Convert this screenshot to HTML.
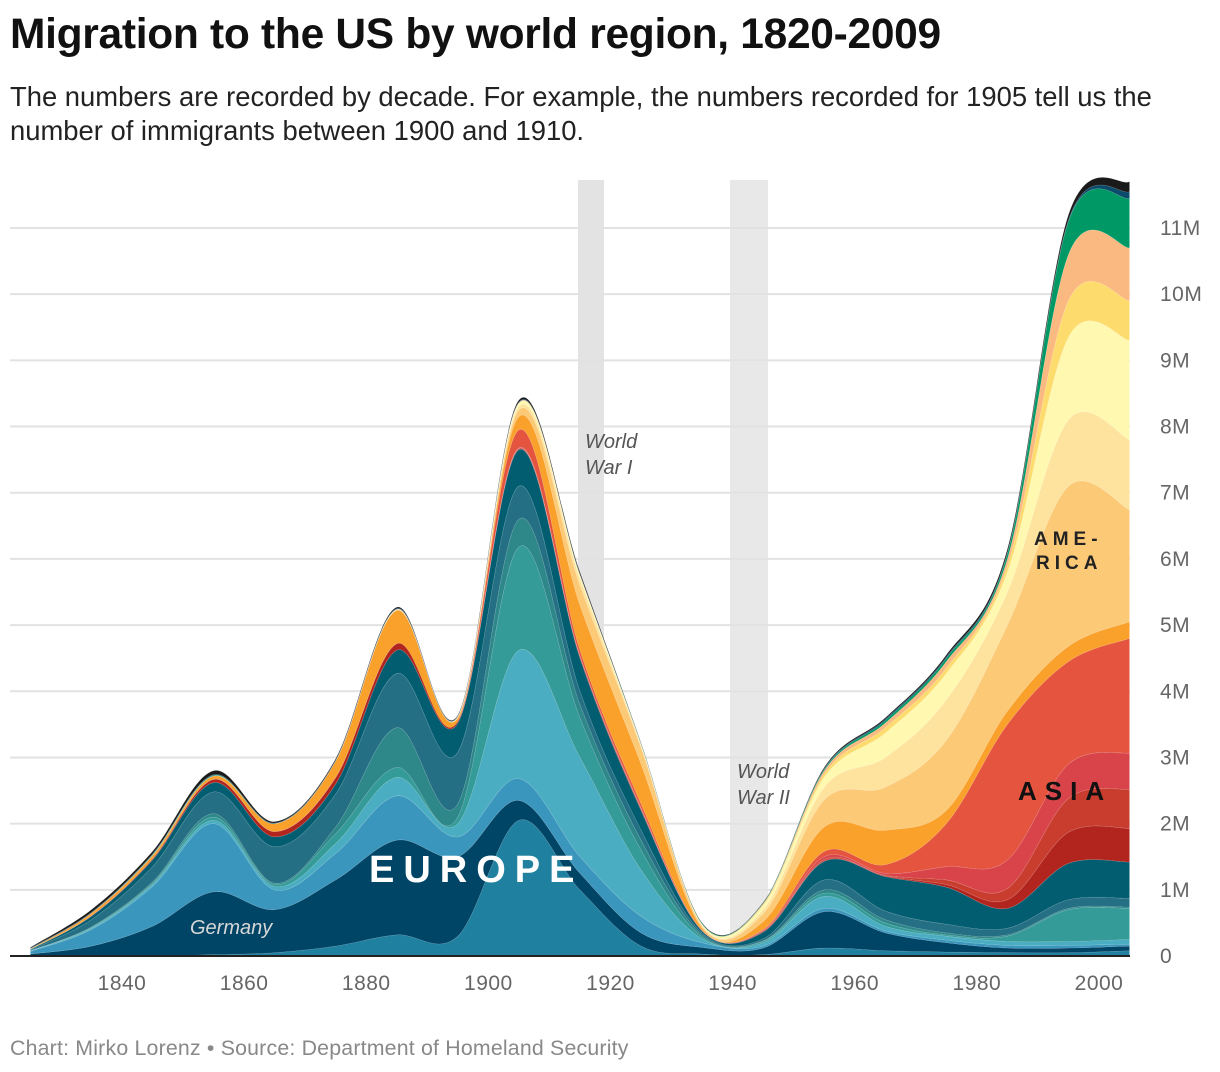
<!DOCTYPE html>
<html><head><meta charset="utf-8">
<style>
body{margin:0;background:#fff;font-family:"Liberation Sans",Arial,sans-serif;}
#wrap{position:relative;width:1220px;height:1072px;overflow:hidden;}
h1{position:absolute;left:10px;top:11px;margin:0;font-size:42.5px;font-weight:bold;color:#111;letter-spacing:-0.3px;}
.sub{position:absolute;left:10px;top:80px;margin:0;font-size:27.4px;line-height:34px;color:#222;width:1180px;}
.foot{position:absolute;left:10px;top:1036px;font-size:21.3px;color:#888;letter-spacing:0.2px;}
</style></head>
<body>
<div id="wrap">
<h1>Migration to the US by world region, 1820-2009</h1>
<p class="sub">The numbers are recorded by decade. For example, the numbers recorded for 1905 tell us the number of immigrants between 1900 and 1910.</p>
<svg id="chart" width="1220" height="1072" style="position:absolute;left:0;top:0"></svg>
<div class="foot">Chart: Mirko Lorenz • Source: Department of Homeland Security</div>
</div>
<script>
// decade midpoints
const years = [1825,1835,1845,1855,1865,1875,1885,1895,1905,1915,1925,1935,1945,1955,1965,1975,1985,1995,2005];
const xTicks = [1840,1860,1880,1900,1920,1940,1960,1980,2000];
const yTicks = [0,1,2,3,4,5,6,7,8,9,10,11];
// stack tops (millions), bottom layer first
const topItaly      = [0,0,0,.02,.05,.15,.32,.3,2.05,1.0,.15,.03,.02,.12,.08,.06,.05,.05,.08];
const topGermany    = [.03,.15,.45,.97,.7,1.15,1.75,1.5,2.35,1.25,.35,.13,.12,.67,.35,.2,.12,.12,.15];
const topEurope3    = [.07,.4,1.05,2.0,1.0,1.55,2.42,1.8,2.68,1.5,.6,.2,.15,.72,.38,.24,.16,.16,.18];
const topEurope4    = [.08,.42,1.08,2.05,1.05,1.7,2.7,2.0,4.62,3.0,1.3,.26,.2,.9,.45,.3,.22,.22,.25];
const topEurope5    = [.08,.43,1.1,2.1,1.08,1.85,2.85,2.1,6.18,3.6,1.6,.29,.22,.95,.5,.32,.3,.7,.72];
const topEurope6    = [.08,.44,1.12,2.15,1.1,1.95,3.45,2.3,6.6,3.8,1.75,.32,.23,1.0,.55,.35,.32,.72,.74];
const topEurope7    = [.09,.55,1.35,2.48,1.65,2.45,4.27,3.08,7.1,4.0,1.9,.35,.26,1.15,.68,.48,.42,.85,.87];
const topEurope8    = [.1,.6,1.45,2.62,1.8,2.6,4.62,3.52,7.65,4.5,2.2,.38,.36,1.43,1.2,1.04,.72,1.4,1.42];
const topAsia1      = [.1,.61,1.47,2.67,1.88,2.7,4.72,3.55,7.66,4.52,2.22,.38,.37,1.44,1.21,1.08,.85,1.87,1.93];
const topAsia2      = [.1,.61,1.47,2.67,1.88,2.7,4.72,3.55,7.67,4.53,2.23,.38,.38,1.46,1.22,1.15,1.02,2.38,2.52];
const topAsia3      = [.1,.61,1.47,2.67,1.88,2.7,4.72,3.55,7.68,4.54,2.24,.38,.39,1.5,1.25,1.35,1.45,2.9,3.07];
const topAsia4      = [.1,.61,1.47,2.67,1.88,2.7,4.72,3.55,7.95,4.62,2.3,.39,.4,1.58,1.38,2.0,3.5,4.45,4.8];
const topAsia5      = [.11,.65,1.52,2.72,2.0,2.95,5.22,3.6,8.15,5.3,2.9,.42,.52,1.95,1.9,2.2,3.7,4.68,5.05];
const topAmerica1   = [.11,.65,1.52,2.72,2.0,2.95,5.23,3.61,8.25,5.6,3.15,.45,.64,2.36,2.55,3.26,5.0,7.1,6.74];
const topAmerica2   = [.11,.65,1.52,2.72,2.0,2.95,5.23,3.61,8.3,5.7,3.18,.46,.7,2.55,3.0,3.87,5.5,8.1,7.8];
const topAmerica3   = [.11,.65,1.52,2.72,2.0,2.95,5.24,3.62,8.35,5.75,3.2,.48,.76,2.7,3.37,4.27,5.8,9.35,9.3];
const topAmerica4   = [.11,.65,1.52,2.72,2.0,2.95,5.24,3.62,8.35,5.75,3.2,.48,.78,2.75,3.45,4.35,5.9,9.9,9.9];
const topAmerica5   = [.11,.65,1.52,2.72,2.0,2.95,5.24,3.62,8.36,5.76,3.2,.48,.79,2.8,3.52,4.45,6.0,10.6,10.7];
const topAfrica     = [.11,.65,1.53,2.73,2.0,2.95,5.24,3.62,8.36,5.76,3.21,.49,.8,2.82,3.56,4.5,6.08,11.1,11.45];
const topOceania    = [.12,.66,1.54,2.74,2.01,2.96,5.25,3.63,8.37,5.77,3.21,.49,.8,2.83,3.58,4.52,6.1,11.12,11.55];
const topOther      = [.13,.7,1.58,2.8,2.03,2.98,5.27,3.64,8.4,5.8,3.22,.5,.81,2.85,3.6,4.55,6.15,11.2,11.7];

const layers = [
 ['italy',topItaly,'#1f80a0'],['germany',topGermany,'#004466'],['europe-3',topEurope3,'#3b96bd'],
 ['europe-4',topEurope4,'#4aadc1'],['europe-5',topEurope5,'#349b98'],['europe-6',topEurope6,'#2e8789'],
 ['europe-7',topEurope7,'#256f84'],['europe-8',topEurope8,'#035d70'],['asia-1',topAsia1,'#b2251f'],
 ['asia-2',topAsia2,'#c93d2f'],['asia-3',topAsia3,'#d9444b'],['asia-4',topAsia4,'#e4543f'],
 ['asia-5',topAsia5,'#f9a12b'],['america-1',topAmerica1,'#fcc977'],['america-2',topAmerica2,'#fde39d'],
 ['america-3',topAmerica3,'#fff8b1'],['america-4',topAmerica4,'#fddc6d'],['america-5',topAmerica5,'#fbb982'],
 ['africa',topAfrica,'#009966'],['oceania',topOceania,'#0a4a6a'],['other',topOther,'#1a1a1a']
];

const NS='http://www.w3.org/2000/svg';
const svg=document.getElementById('chart');
const X=y=>122+(y-1840)*(1099-122)/160;
const Y=v=>956-v*728/11;
function mk(t,a){const e=document.createElementNS(NS,t);for(const k in a)e.setAttribute(k,a[k]);svg.appendChild(e);return e;}

const b1=mk('rect',{x:578,y:180,width:26,height:776,fill:'#e3e3e3'});


const b2=mk('rect',{x:730,y:180,width:38,height:776,fill:'#e8e8e8'});



yTicks.forEach(t=>{
  if(t>0){const g=mk('line',{x1:10,x2:1130,y1:Y(t),y2:Y(t),stroke:'#e2e2e2','stroke-width':2});
  
  }
  const l=mk('text',{x:1160,y:Y(t)+7,'font-size':21,fill:'#666','letter-spacing':0.5,'font-family':'Liberation Sans, sans-serif'});
  l.textContent=t===0?'0':t+'M';
  
  
});

function curve(pts){
  let d='';
  for(let i=0;i<pts.length-1;i++){
    const p0=pts[i-1]||pts[i],p1=pts[i],p2=pts[i+1],p3=pts[i+2]||p2;
    const c1=[p1[0]+(p2[0]-p0[0])/6,p1[1]+(p2[1]-p0[1])/6];
    const c2=[p2[0]-(p3[0]-p1[0])/6,p2[1]-(p3[1]-p1[1])/6];
    d+=` C${c1[0]},${c1[1]} ${c2[0]},${c2[1]} ${p2[0]},${p2[1]}`;
  }
  return d;
}
let prev=null;
layers.forEach(([name,tops,col])=>{
  const top=years.map((yr,i)=>[X(yr),Y(tops[i])]);
  let d='M'+top[0][0]+','+top[0][1]+curve(top);
  if(prev){const bot=prev.slice().reverse();d+=' L'+bot[0][0]+','+bot[0][1]+curve(bot);}
  else{d+=` L${X(2005)},956 L${X(1825)},956`;}
  d+='Z';
  const p=mk('path',{d:d,fill:col,stroke:'rgba(255,255,255,0.15)','stroke-width':0.6});
  
  
  prev=top;
});

const ax=mk('line',{x1:10,x2:1130,y1:956,y2:956,stroke:'#222','stroke-width':2});


xTicks.forEach(t=>{
  const l=mk('text',{x:X(t),y:990,'font-size':21,fill:'#666','text-anchor':'middle','letter-spacing':0.5,'font-family':'Liberation Sans, sans-serif'});
  l.textContent=t;
  
  
});

function txt(s,a,name){const e=mk('text',Object.assign({'font-family':'Liberation Sans, sans-serif'},a));e.textContent=s;
  
  return e;}
txt('World',{x:585,y:448,'font-size':20,'font-style':'italic',fill:'#555'},'ww1-label');
txt('War I',{x:585,y:474,'font-size':20,'font-style':'italic',fill:'#555'},'ww1-label');
txt('World',{x:737,y:778,'font-size':20,'font-style':'italic',fill:'#555'},'ww2-label');
txt('War II',{x:737,y:804,'font-size':20,'font-style':'italic',fill:'#555'},'ww2-label');
txt('Germany',{x:190,y:934,'font-size':20,'font-style':'italic',fill:'#d8d8d8'},'germany-label');
txt('EUROPE',{x:369,y:882,'font-size':38,'font-weight':'bold',fill:'#fff','letter-spacing':9},'europe-label');
txt('ASIA',{x:1018,y:800,'font-size':26,'font-weight':'bold',fill:'#111','letter-spacing':8},'asia-label');
txt('AME-',{x:1034,y:545,'font-size':19,'font-weight':'bold',fill:'#222','letter-spacing':5},'america-label');
txt('RICA',{x:1036,y:569,'font-size':19,'font-weight':'bold',fill:'#222','letter-spacing':5},'america-label');
</script>
</body></html>
